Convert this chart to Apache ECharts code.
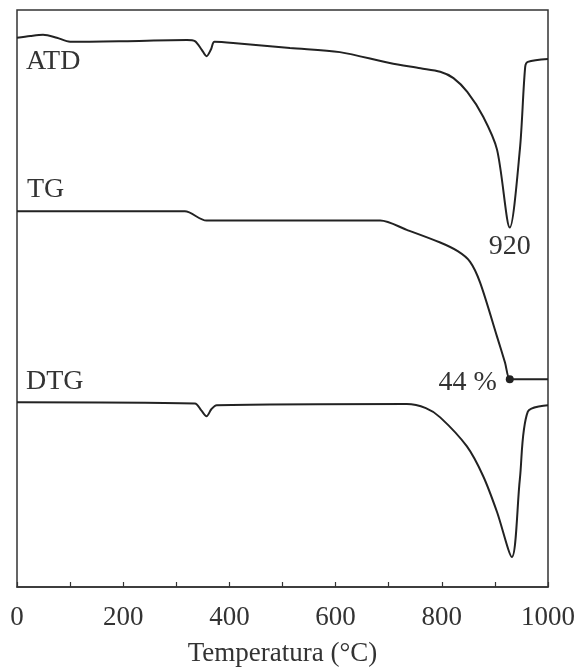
<!DOCTYPE html>
<html>
<head>
<meta charset="utf-8">
<script src="https://cdn.jsdelivr.net/npm/echarts@6/dist/echarts.min.js"></script>
<style>html,body{margin:0;padding:0;background:#fff}#c{width:580px;height:672px}</style>
</head>
<body>
<div id="c"></div>
<script>
// Temperature (°C) and relative signal (arbitrary units, 0-100)
const atdT = [0, 25, 49, 75, 100, 200, 320, 335, 348, 357, 365, 372, 407, 514, 608, 702, 760, 797, 822, 848, 878, 904, 928, 947, 957, 962, 1000];
const atdV = [95.2, 95.5, 95.7, 95.2, 94.5, 94.6, 94.8, 94.6, 93.1, 92.0, 93.1, 94.5, 94.3, 93.4, 92.7, 90.8, 89.9, 89.3, 88.2, 85.8, 81.5, 75.8, 62.3, 75.8, 90.1, 91.0, 91.5];

const tgT = [0, 316, 357, 684, 734, 797, 830, 853, 872, 904, 919, 928, 936, 1000];
const tgV = [65.1, 65.1, 63.5, 63.5, 61.9, 59.7, 58.2, 56.4, 52.8, 43.4, 38.9, 36.0, 36.0, 36.0];

const dtgT = [0, 335, 347, 357, 366, 376, 734, 770, 797, 847, 878, 904, 932, 947, 962, 1000];
const dtgV = [32.0, 31.8, 30.6, 29.6, 30.8, 31.5, 31.7, 31.0, 29.4, 24.4, 19.2, 13.0, 5.2, 18.7, 30.4, 31.5];

const xTicks = [0, 200, 400, 600, 800, 1000];
const seriesNames = ['ATD', 'TG', 'DTG'];
const peakLabel = '920';
const lossLabel = '44 %';

const FONT = 'Liberation Serif';
const TXT = '#333';
const LINE = '#222';
const FS = 27;

function build(T, V, name, nameOffset, extra) {
  return T.map((t, i) => {
    const item = { value: [t, V[i]] };
    if (i === 0) {
      item.label = { show: true, formatter: name, position: 'right', distance: 0, offset: nameOffset,
        fontFamily: FONT, fontSize: 28, color: TXT };
    }
    if (extra && extra[i]) Object.assign(item, extra[i]);
    return item;
  });
}

const atdMin = atdV.indexOf(Math.min(...atdV));
const tgEnd = tgT.indexOf(928);

const atdExtra = {};
atdExtra[atdMin] = { label: { show: true, formatter: peakLabel, position: 'bottom', distance: 5, fontFamily: FONT, fontSize: 28, color: TXT } };
const tgExtra = {};
tgExtra[tgEnd] = { symbolSize: 8, itemStyle: { color: LINE },
  label: { show: true, formatter: lossLabel, position: 'left', distance: 9, offset: [0, 3], fontFamily: FONT, fontSize: 28, color: TXT } };

const chart = echarts.init(document.getElementById('c'), null, { renderer: 'canvas' });
const common = { type: 'line', smooth: 0.3, showSymbol: true, symbol: 'circle', symbolSize: 0,
  lineStyle: { color: LINE, width: 2 }, itemStyle: { color: LINE }, animation: false, silent: true };

chart.setOption({
  animation: false,
  grid: { left: 17, right: 32, top: 10, bottom: 83, show: true, borderColor: '#333', borderWidth: 1.5, backgroundColor: 'transparent' },
  xAxis: {
    type: 'value', min: 0, max: 1000, interval: 100,
    name: 'Temperatura (°C)', nameLocation: 'middle', nameGap: 53,
    nameTextStyle: { fontFamily: FONT, fontSize: FS, color: TXT },
    axisLine: { show: true, lineStyle: { color: '#333', width: 1.5 } },
    axisTick: { show: true, inside: true, length: 5, lineStyle: { color: '#333', width: 1.2 } },
    axisLabel: { margin: 17, fontFamily: FONT, fontSize: FS, color: TXT,
      formatter: v => xTicks.indexOf(v) >= 0 ? String(v) : '' },
    splitLine: { show: false }
  },
  yAxis: { type: 'value', min: 0, max: 100, show: false, splitLine: { show: false } },
  series: [
    Object.assign({}, common, { name: seriesNames[0], data: build(atdT, atdV, seriesNames[0], [9, 24], atdExtra) }),
    Object.assign({}, common, { name: seriesNames[1], data: build(tgT, tgV, seriesNames[1], [10, -22], tgExtra) }),
    Object.assign({}, common, { name: seriesNames[2], data: build(dtgT, dtgV, seriesNames[2], [9, -21], null) })
  ]
});
</script>
</body>
</html>
